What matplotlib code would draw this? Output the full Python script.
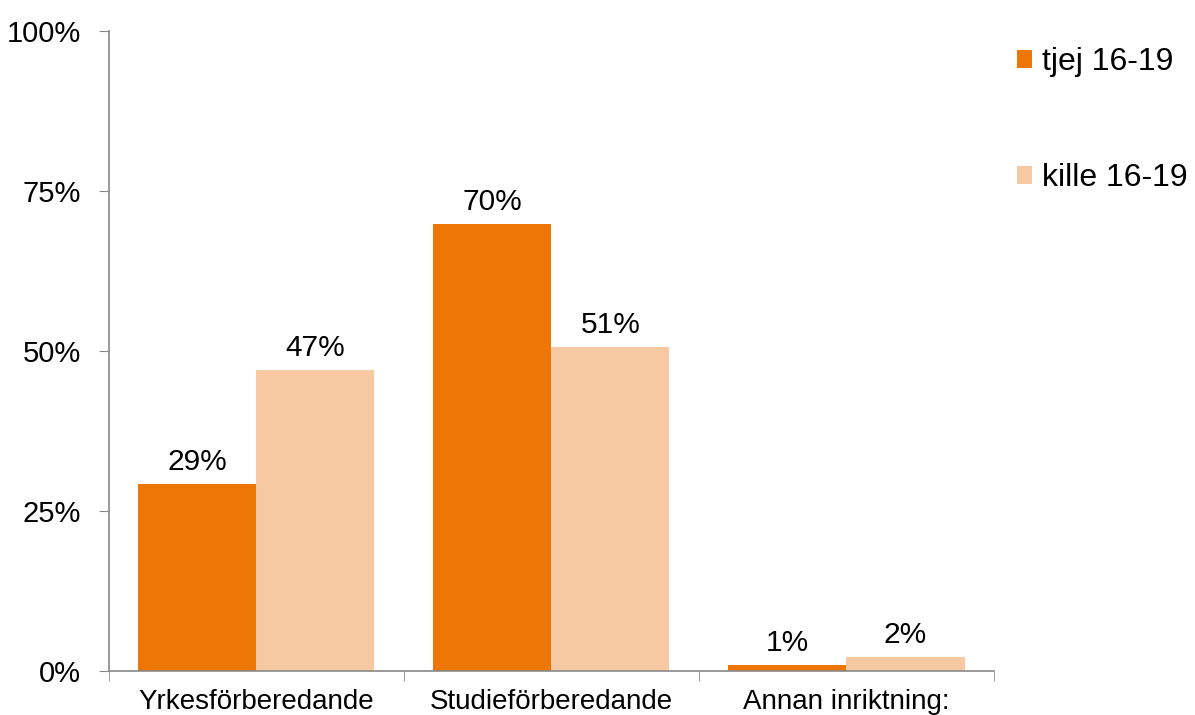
import numpy as np
import matplotlib.pyplot as plt

plt.rcParams['font.family'] = ['Liberation Sans', 'DejaVu Sans']

# --- data ---
kategorier = ["Yrkesförberedande", "Studieförberedande", "Annan inriktning:"]
tjej = [0.292, 0.698, 0.009]
kille = [0.47, 0.506, 0.022]
serier = ["tjej 16-19", "kille 16-19"]

farg_tjej = "#EE7604"
farg_kille = "#F7C9A3"
grafarg = "#898989"

fig = plt.figure(figsize=(11.95, 7.15), dpi=100)
ax = fig.add_axes([0.0912, 0.0615, 0.7406, 0.895])

x = np.arange(len(kategorier))
bredd = 0.4
b1 = ax.bar(x - bredd / 2, tjej, bredd, color=farg_tjej, label=serier[0])
b2 = ax.bar(x + bredd / 2, kille, bredd, color=farg_kille, label=serier[1])

# etiketter ovanför staplarna
for staplar, varden in ((b1, tjej), (b2, kille)):
    for s, v in zip(staplar, varden):
        ax.annotate(f"{round(v * 100):.0f}%", (s.get_x() + s.get_width() / 2, v),
                    xytext=(0, 6), textcoords="offset points",
                    ha="center", va="bottom", fontsize=21.5)

ax.set_xlim(-0.5, len(kategorier) - 0.5)
ax.set_ylim(0, 1)
ax.set_yticks([0, 0.25, 0.5, 0.75, 1.0])
ax.set_yticklabels(["0%", "25%", "50%", "75%", "100%"], fontsize=21)
ax.set_xticks(x)
ax.set_xticklabels(kategorier, fontsize=20)
ax.set_xticks(np.arange(len(kategorier) + 1) - 0.5, minor=True)
ax.tick_params(axis="x", which="major", length=0, pad=13)
ax.tick_params(axis="x", which="minor", length=7, color=grafarg, direction="out")
ax.tick_params(axis="y", length=7, color=grafarg, direction="out", pad=13)

for sida in ("top", "right"):
    ax.spines[sida].set_visible(False)
for sida in ("left", "bottom"):
    ax.spines[sida].set_color(grafarg)
    ax.spines[sida].set_linewidth(1.2)

ax.legend(loc="upper left", bbox_to_anchor=(1.011, 0.995), frameon=False,
          fontsize=23, handlelength=0.5, handleheight=0.5, handletextpad=0.3,
          labelspacing=2.7, borderaxespad=0)

fig.savefig("out.png", dpi=100)
